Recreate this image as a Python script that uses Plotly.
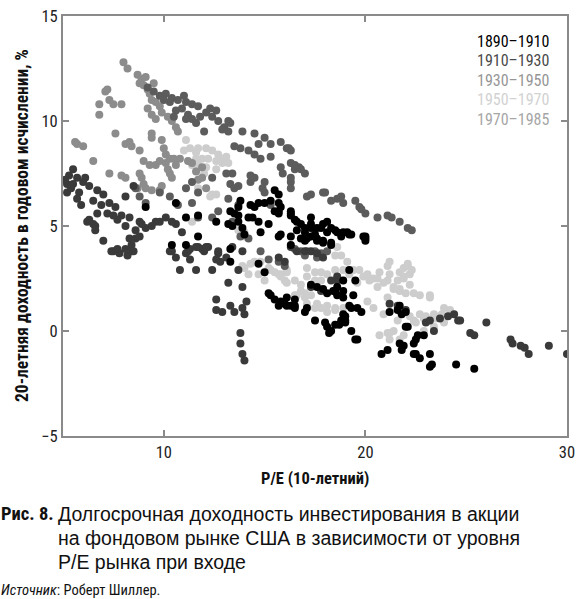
import plotly.graph_objects as go

## Periods, shades of the dots and shades of the legend text
periods = ['1890–1910', '1910–1930', '1930–1950', '1950–1970', '1970–1985']
dot_colors = ['#000000', '#3a3a3a', '#5c5c5c', '#cdcdcd', '#8c8c8c']
label_colors = ['#000000', '#4a4a4a', '#969696', '#d2d2d2', '#a6a6a6']

## (P/E 10-year, 20-year annual return %)
pts_1890 = [
    (16.5, 5.3), (16.8, 5.1), (16.6, 4.8), (17.0, 4.7), (17.3, 4.9), (17.5, 4.6), (17.6, 4.4), (17.1, 4.4),
    (16.8, 4.4), (17.8, 4.9), (18.1, 4.7), (18.1, 5.2), (18.5, 4.8), (18.8, 4.5), (19.1, 4.7), (19.3, 4.6),
    (19.9, 4.5), (20.0, 4.4), (18.3, 4.2), (17.9, 4.2), (17.3, 5.4), (16.3, 5.5), (15.7, 5.6), (13.3, 5.7),
    (13.5, 5.6), (14.2, 5.4), (14.7, 5.2), (14.4, 5.4), (15.2, 5.1), (15.5, 5.7), (14.8, 4.7), (13.3, 3.9),
    (13.3, 3.3), (15.2, 1.8), (15.3, 1.7), (15.5, 1.5), (15.8, 1.4), (16.1, 1.6), (16.3, 1.2), (16.5, 1.5),
    (16.5, 1.1), (15.7, 1.2), (17.0, 0.9), (17.1, 1.1), (17.3, 2.2), (17.6, 2.1), (17.9, 2.0), (18.1, 1.8),
    (18.4, 1.9), (18.6, 1.7), (18.9, 1.9), (18.9, 1.6), (19.2, 1.2), (19.3, 1.1), (19.2, 2.9), (18.9, 2.4),
    (17.5, 0.5), (18.0, 0.4), (18.1, 0.2), (18.5, 0.3), (18.2, -0.1), (18.7, 0.3), (18.9, 0.8), (19.0, 0.5),
    (19.6, -0.4), (19.3, 0.0), (20.8, -1.1), (21.1, -0.9), (21.7, -0.6), (13.4, 5.0), (13.7, 5.2), (13.9, 4.9),
    (21.7, 1.2), (21.8, 0.8), (22.1, 0.2), (21.8, -0.9), (22.5, -0.4), (22.4, -0.6), (22.5, -1.1), (22.7, -1.3),
    (22.4, -1.1), (22.6, -0.2), (22.9, -0.2), (23.2, -1.1), (23.3, -1.6), (23.2, -1.7), (24.5, -1.6), (25.4, -1.8),
    (22.0, 0.2), (19.5, -0.4), (21.9, -0.7), (18.3, 0.0), (19.0, 0.4), (18.8, 0.5), (19.0, 0.7), (19.4, 1.7),
    (19.5, 2.4), (19.6, 1.1), (19.8, 0.9), (21.2, 0.9), (21.6, 1.0), (22.0, 0.9), (18.6, 2.1), (18.5, 1.9),
    (16.1, 1.2), (16.3, 4.5), (17.0, 4.3), (17.6, 4.3), (18.3, 4.1), (20.0, 4.5), (15.5, 6.7), (15.7, 6.5),
    (15.3, 6.2), (15.0, 6.1), (14.7, 6.1), (14.3, 6.0), (15.7, 6.1), (15.8, 5.9), (16.3, 5.6), (13.8, 6.2),
    (13.7, 5.9), (16.6, 5.2), (17.0, 4.9), (17.3, 5.1), (17.6, 4.9), (17.9, 5.1), (18.3, 4.9), (18.6, 4.7),
    (18.9, 4.7), (19.2, 4.6), (20.0, 4.3), (17.3, 4.5), (17.9, 4.3), (16.3, 4.1), (15.7, 5.7), (15.7, 4.5),
    (13.7, 5.5), (13.2, 5.1), (12.6, 5.2), (11.7, 5.5), (11.1, 5.4), (14.5, 5.9), (16.3, 5.7), (15.8, 4.6),
    (14.0, 4.6), (11.7, 4.5), (11.1, 4.1), (10.4, 4.1), (10.6, 6.1), (9.1, 5.9), (16.5, 1.2), (15.0, 2.8),
    (14.7, 3.2), (16.0, 1.3),
]
pts_1910 = [
    (5.2, 6.6), (5.2, 7.0), (5.3, 7.4), (5.5, 7.7), (5.7, 7.3), (6.0, 7.1), (6.3, 6.9), (6.7, 6.7),
    (7.0, 6.5), (7.3, 6.1), (7.6, 5.9), (7.9, 5.5), (8.3, 5.4), (8.8, 5.2), (9.1, 4.9), (9.6, 5.2),
    (10.1, 5.4), (10.6, 5.1), (10.9, 4.7), (5.8, 6.6), (6.1, 7.3), (6.5, 6.2), (6.9, 6.0), (7.2, 5.6),
    (7.7, 5.3), (8.1, 5.0), (5.5, 7.0), (5.1, 7.2), (5.4, 6.8), (5.7, 6.3), (6.2, 5.2), (6.6, 5.0),
    (7.0, 4.3), (5.9, 6.0), (8.1, 6.4), (8.5, 6.9), (7.5, 3.8), (7.8, 3.7), (8.1, 3.9), (8.2, 3.6),
    (8.4, 4.1), (8.6, 4.4), (8.8, 4.5), (10.3, 3.8), (10.6, 3.5), (10.8, 2.9), (11.1, 3.7), (11.3, 3.4),
    (11.6, 2.9), (11.7, 4.0), (12.0, 3.8), (12.2, 4.0), (12.4, 2.9), (12.7, 3.7), (12.8, 3.3), (13.1, 3.5),
    (13.2, 2.3), (13.4, 4.0), (13.7, 2.9), (13.9, 2.1), (12.6, 1.5), (12.6, 1.0), (12.9, 0.9), (13.3, 1.2),
    (13.5, 0.9), (13.9, 1.1), (14.0, 0.8), (14.1, 1.4), (13.8, -0.1), (13.8, -0.6), (13.9, -1.1), (14.0, -1.4),
    (6.3, 5.3), (6.5, 5.1), (6.6, 4.8), (7.4, 3.8), (7.7, 3.9), (8.3, 4.4), (8.4, 3.8), (8.5, 3.8),
    (8.6, 4.8), (9.4, 5.0), (9.8, 5.2), (10.4, 5.2), (10.4, 3.8), (11.2, 3.8), (11.3, 3.9), (11.6, 4.0),
    (11.9, 3.9), (12.1, 4.0), (12.6, 3.4), (12.7, 3.8), (6.7, 5.6), (7.5, 5.5), (8.9, 5.1),
    (24.6, 0.5), (25.2, -0.1), (25.4, -0.2), (26.0, 0.4), (27.2, -0.4), (27.3, -0.6), (27.7, -0.7), (27.9, -0.8),
    (28.1, -1.1), (29.1, -0.7), (30.0, -1.1), (24.1, 0.7), (24.4, 0.8), (24.7, 0.5), (23.0, 0.4), (23.4, 0.0),
    (21.2, 1.3), (21.6, 1.2), (16.3, 4.0), (16.6, 3.8), (17.0, 3.8), (17.3, 3.8), (17.6, 3.7), (17.9, 3.5),
    (15.7, 3.5), (16.0, 3.3), (17.3, 2.1), (17.8, 1.9), (18.6, 2.6), (18.6, 2.4), (18.3, 2.4), (13.9, 3.8),
    (22.0, 1.0), (23.7, 0.6), (23.2, 0.5),
]
pts_1930 = [
    (9.8, 11.2), (10.1, 11.3), (10.4, 11.1), (10.7, 11.0), (11.1, 10.9), (11.4, 10.8), (11.7, 10.7), (12.1, 10.4),
    (12.4, 10.2), (12.7, 10.0), (13.0, 9.7), (13.2, 9.5), (10.9, 10.6), (11.2, 10.3), (11.4, 10.1), (11.1, 10.1),
    (11.6, 9.9), (12.0, 9.5), (12.9, 9.6), (10.3, 10.9), (10.6, 10.5), (10.5, 10.2), (9.5, 11.4), (9.2, 11.6),
    (10.0, 11.0), (11.0, 11.2), (12.3, 10.6), (12.6, 10.5), (13.2, 10.0), (11.8, 10.2),
    (13.3, 9.9), (13.9, 9.5), (14.5, 9.4), (15.0, 9.2), (15.3, 8.9), (15.8, 9.0), (16.1, 8.7), (16.3, 8.6),
    (13.5, 8.8), (13.8, 8.7), (14.2, 8.6), (14.5, 8.4), (14.8, 8.2), (15.3, 8.3), (14.7, 8.9), (15.8, 7.8),
    (15.9, 7.5), (16.3, 8.0), (16.5, 7.7), (16.7, 7.8), (17.0, 7.5), (16.3, 7.1), (16.3, 6.8), (13.4, 7.5),
    (13.3, 7.0), (13.5, 6.8), (14.3, 7.4), (14.5, 7.3), (14.3, 7.1), (15.0, 7.1), (14.9, 6.8), (17.1, 6.4),
    (18.0, 6.6), (18.3, 6.2), (18.6, 6.3), (18.8, 6.4), (18.9, 6.1), (19.5, 6.2), (19.7, 5.9), (19.8, 5.8),
    (20.6, 5.4), (21.1, 5.5), (21.3, 5.4), (21.7, 5.2), (22.3, 4.8), (22.1, 4.9), (17.3, 6.5), (17.9, 6.6),
    (20.0, 5.6), (16.2, 8.7), (16.5, 7.9), (16.8, 7.7), (16.3, 7.3),
    (12.4, 7.3), (13.1, 7.5), (13.7, 6.9), (15.0, 6.6), (15.3, 6.0), (13.7, 6.0), (13.2, 6.3), (11.7, 6.6),
    (11.4, 7.1), (11.1, 6.8), (11.4, 6.1), (10.7, 6.0), (11.7, 5.4), (12.4, 5.4), (12.7, 5.7), (13.4, 5.2),
    (13.8, 4.5), (14.2, 4.4), (14.8, 3.8), (15.2, 3.4), (15.7, 3.3), (16.0, 3.1), (16.5, 3.9), (16.8, 3.8),
    (17.1, 3.8), (17.5, 3.8), (17.8, 3.7), (18.1, 3.8), (17.0, 3.6), (17.6, 3.5),
    (8.6, 6.8), (9.8, 6.6), (10.3, 6.4), (9.1, 6.1), (8.8, 6.4),
]
pts_1950 = [
    (11.1, 9.1), (11.3, 8.7), (11.7, 8.7), (12.1, 8.7), (12.4, 8.6), (12.7, 8.4), (13.1, 8.3), (13.2, 8.0),
    (12.9, 8.0), (12.6, 8.1), (12.2, 8.2), (11.9, 8.2), (11.6, 8.2), (11.4, 7.9), (11.7, 7.9), (12.1, 7.8),
    (12.6, 7.7), (12.0, 7.5), (12.3, 6.4), (12.6, 6.5), (11.7, 6.8), (11.0, 8.6), (11.6, 8.5), (12.4, 6.5),
    (12.9, 8.2),
    (14.5, 3.3), (14.8, 3.3), (14.0, 3.0), (14.2, 2.7), (15.2, 3.0), (15.5, 2.8), (15.8, 2.7), (16.1, 2.8),
    (16.0, 2.4), (16.5, 2.4), (16.8, 2.2), (17.1, 3.0), (17.5, 2.8), (17.8, 2.8), (18.1, 2.7), (18.5, 2.9),
    (18.8, 3.6), (19.1, 3.3), (19.4, 2.9), (19.7, 2.9), (20.1, 2.7), (20.4, 2.5), (20.7, 2.8), (21.1, 2.4),
    (21.4, 2.0), (21.7, 1.9), (17.0, 1.6), (17.1, 1.3), (17.8, 1.1), (18.1, 1.2), (18.5, 1.1), (17.5, 1.1),
    (16.8, 1.9), (16.5, 1.7), (20.1, 1.4), (20.4, 1.1), (20.9, 0.8), (20.7, -0.2), (21.1, -0.1), (21.2, -0.4),
    (21.4, 0.0), (18.6, 4.0), (18.5, 3.6), (13.7, 4.8), (14.0, 4.7),
    (21.9, 3.0), (22.1, 3.1), (22.2, 2.7), (21.9, 2.6), (21.6, 2.4), (21.4, 2.1), (22.0, 1.8), (22.4, 1.8),
    (21.1, 1.6), (20.9, 2.3), (20.6, 2.1), (22.7, 0.8), (23.0, 0.7), (23.4, 0.8), (23.7, 0.7), (23.8, 0.8),
    (24.2, 1.0), (22.2, 0.7), (22.5, 0.4), (22.9, 0.0), (23.2, 1.6), (23.4, 0.2), (21.6, 0.5), (21.2, -0.1),
    (17.0, 1.8), (17.3, 1.7), (16.6, 1.7), (15.7, 2.7), (16.1, 2.9), (17.1, 2.6), (17.5, 2.4), (17.8, 2.4),
    (19.9, 2.6), (20.2, 2.4), (20.6, 2.5), (18.9, 2.9), (19.2, 2.7), (19.6, 2.3), (17.6, 1.3), (18.1, 0.9),
    (18.5, 1.0), (18.9, 1.1), (21.2, 2.7), (21.1, 3.1), (21.2, 3.3),
    (22.1, 3.2), (22.3, 2.9), (21.7, 2.8), (21.9, 2.5), (22.2, 2.2), (22.7, 1.7), (23.2, 1.7), (21.7, 2.0),
    (23.9, 1.1), (23.9, 0.4), (23.5, 0.6), (22.9, 0.6), (22.4, 0.5), (21.9, -0.2), (21.7, -0.4),
    (14.0, 4.5), (13.9, 3.1), (14.3, 3.2), (14.7, 2.7), (15.0, 2.4), (15.3, 2.9), (15.8, 2.6), (16.1, 2.3),
    (11.4, 5.2),
]
pts_1970 = [
    (8.0, 12.8), (8.2, 12.5), (8.7, 12.2), (8.9, 12.0), (9.0, 11.7), (9.2, 11.5), (9.3, 11.3), (9.4, 11.0),
    (9.6, 10.9), (9.8, 10.7), (9.9, 10.4), (10.2, 10.2), (10.4, 10.0), (10.6, 9.7), (10.7, 9.5), (9.2, 10.6),
    (9.4, 10.3), (9.6, 10.1), (8.8, 11.8), (9.1, 12.1), (9.5, 11.8),
    (7.1, 11.4), (7.3, 11.0), (7.5, 10.8), (7.9, 10.8), (6.8, 10.8), (6.8, 10.3), (7.6, 9.4), (5.6, 9.0),
    (6.0, 8.8), (6.5, 8.1), (8.1, 8.9), (8.4, 8.8), (8.8, 8.6), (8.3, 9.0), (9.4, 9.4), (9.4, 9.2),
    (9.9, 9.1), (10.0, 8.7), (10.1, 8.4), (10.3, 8.2), (9.0, 8.1), (9.3, 7.9), (9.6, 7.9), (9.8, 8.1),
    (7.3, 7.5), (7.9, 7.4), (8.1, 7.3), (8.8, 7.5), (8.9, 7.3), (9.0, 7.0), (10.1, 8.0), (10.2, 7.7),
    (10.3, 7.5), (10.4, 7.3), (10.6, 7.9), (10.5, 8.2), (10.8, 8.2), (8.7, 6.8), (9.1, 6.8), (9.4, 6.7),
    (9.8, 6.7), (9.9, 6.9), (11.2, 8.1), (11.4, 8.0), (11.6, 7.6), (11.9, 7.3), (11.7, 7.2), (12.1, 6.8),
    (11.9, 7.8), (7.2, 11.5), (5.7, 8.9),
]
all_points = [pts_1890, pts_1910, pts_1930, pts_1950, pts_1970]

## Axis ranges and ticks
x_range = [5, 30]
y_range = [-5, 15]
x_ticks = [10, 20, 30]
y_ticks = [-5, 0, 5, 10, 15]

NARROW = "Roboto Condensed, Liberation Sans Narrow, Roboto, sans-serif"
PLAIN = "Liberation Sans, Arial, Helvetica, sans-serif"

fig = go.Figure()

## Light shades first so that the black dots stay on top
for i in [3, 4, 2, 1, 0]:
    pts = all_points[i]
    fig.add_trace(go.Scatter(x=[p[0] for p in pts], y=[p[1] for p in pts], mode='markers',
                             name=periods[i],
                             marker=dict(size=8, color=dot_colors[i], line=dict(width=0))))

## Legend written as coloured text, top right
for i in range(len(periods)):
    fig.add_annotation(text=periods[i], xref='paper', yref='paper', x=0, y=1,
                       xanchor='left', yanchor='middle', xshift=412, yshift=-(25 + 19.5 * i),
                       showarrow=False, font=dict(family=NARROW, size=16, color=label_colors[i]))

## Axis titles
fig.add_annotation(text='<b>P/E (10-летний)</b>', xref='paper', yref='paper', x=0.5, y=0,
                   xanchor='center', yanchor='middle', yshift=-42, showarrow=False,
                   font=dict(family=NARROW, size=16.5, color='#111111'))
fig.add_annotation(text='<b>20-летняя доходность в годовом исчислении, %</b>', xref='paper', yref='paper',
                   x=0, y=0.5, xanchor='center', yanchor='middle', xshift=-41, textangle=-90,
                   showarrow=False, font=dict(family=NARROW, size=17.5, color='#111111'))

## Caption under the chart
fig.add_annotation(text='<b>Рис. 8.</b>', xref='paper', yref='paper', x=0, y=0,
                   xanchor='left', yanchor='middle', xshift=-64, yshift=-78, showarrow=False,
                   font=dict(family=NARROW, size=18.5, color='#111111'))
caption = ['Долгосрочная доходность инвестирования в акции',
           'на фондовом рынке США в зависимости от уровня',
           'P/E рынка при входе']
for k, line in enumerate(caption):
    fig.add_annotation(text=line, xref='paper', yref='paper', x=0, y=0,
                       xanchor='left', yanchor='middle', xshift=-7, yshift=-(78 + 24 * k),
                       showarrow=False, font=dict(family=PLAIN, size=19.5, color='#111111'))
fig.add_annotation(text='<i>Источник</i>: Роберт Шиллер.', xref='paper', yref='paper', x=0, y=0,
                   xanchor='left', yanchor='middle', xshift=-64, yshift=-154, showarrow=False,
                   font=dict(family=NARROW, size=14.5, color='#111111'))

## Frame, ticks inside, labels only left and bottom
axis_style = dict(showgrid=False, zeroline=False, showline=True, linecolor='#8a8a8a', linewidth=2,
                  mirror='ticks', ticks='inside', ticklen=6, tickwidth=1.5, tickcolor='#8a8a8a',
                  ticklabeloverflow='allow',
                  tickfont=dict(family=NARROW, size=16.5, color='#222222'))
fig.update_xaxes(range=x_range, tickvals=x_ticks, **axis_style)
fig.update_yaxes(range=y_range, tickvals=y_ticks, **axis_style)

fig.update_layout(width=582, height=599, showlegend=False,
                  margin=dict(l=63, r=9, t=7, b=163),
                  plot_bgcolor='white', paper_bgcolor='white')

## The page has a default body margin; remove it so the figure sits at the corner
fig.write_html("out.html", config={'displayModeBar': False},
               post_script="document.body.style.margin='0';")
